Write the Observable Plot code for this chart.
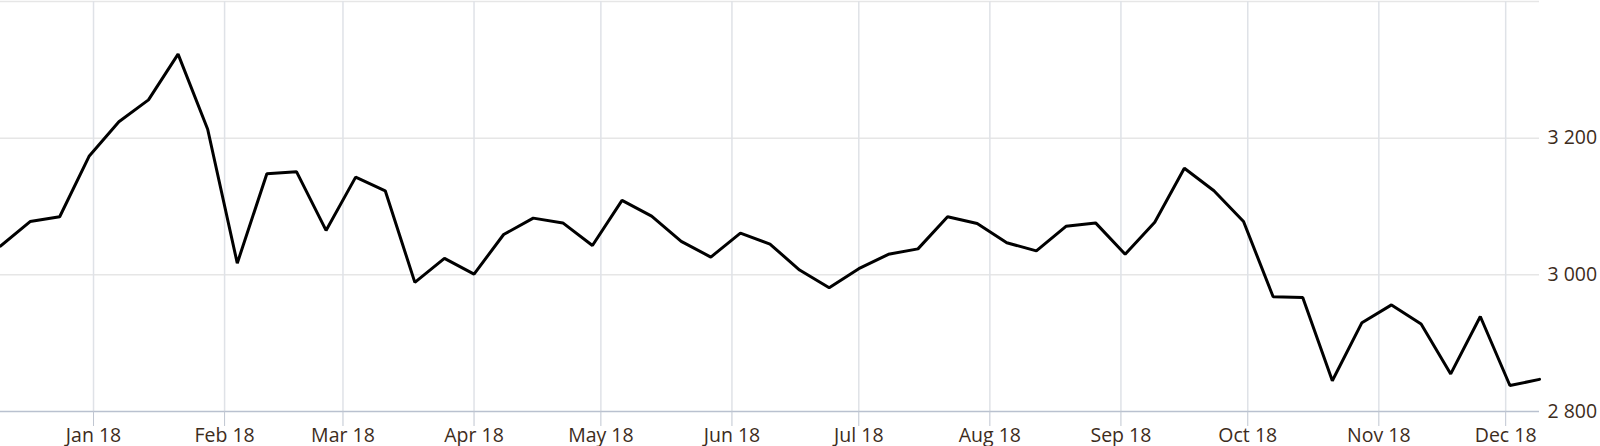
<!DOCTYPE html>
<html>
<head>
<meta charset="utf-8">
<script src="https://cdn.jsdelivr.net/npm/d3@7"></script>
<script src="https://cdn.jsdelivr.net/npm/@observablehq/plot@0.6"></script>
<style>
  html, body { margin: 0; padding: 0; background: #ffffff; }
  #chart svg { display: block; }
</style>
</head>
<body>
<div id="chart"></div>
<script>
const dates = [
  "2017-12-10","2017-12-17","2017-12-24","2017-12-31",
  "2018-01-07","2018-01-14","2018-01-21","2018-01-28",
  "2018-02-04","2018-02-11","2018-02-18","2018-02-25",
  "2018-03-04","2018-03-11","2018-03-18","2018-03-25",
  "2018-04-01","2018-04-08","2018-04-15","2018-04-22","2018-04-29",
  "2018-05-06","2018-05-13","2018-05-20","2018-05-27",
  "2018-06-03","2018-06-10","2018-06-17","2018-06-24",
  "2018-07-01","2018-07-08","2018-07-15","2018-07-22","2018-07-29",
  "2018-08-05","2018-08-12","2018-08-19","2018-08-26",
  "2018-09-02","2018-09-09","2018-09-16","2018-09-23","2018-09-30",
  "2018-10-07","2018-10-14","2018-10-21","2018-10-28",
  "2018-11-04","2018-11-11","2018-11-18","2018-11-25",
  "2018-12-02","2018-12-09"
];
const values = [
  3042, 3078, 3085, 3174,
  3224, 3256, 3323, 3213,
  3017, 3148, 3151, 3065,
  3143, 3123, 2989, 3024,
  3001, 3059, 3083, 3076, 3043,
  3109, 3086, 3049, 3026,
  3061, 3045, 3007, 2981,
  3009, 3030, 3038, 3085, 3075,
  3047, 3035, 3071, 3076,
  3030, 3077, 3156, 3123, 3078,
  2968, 2967, 2845, 2930,
  2956, 2928, 2855, 2939,
  2838, 2847
];
const monthTicks = [
  "2018-01-01","2018-02-01","2018-03-01","2018-04-01","2018-05-01","2018-06-01",
  "2018-07-01","2018-08-01","2018-09-01","2018-10-01","2018-11-01","2018-12-01"
];
const yTicks = [2800, 3000, 3200];
const yGrid = [3000, 3200, 3400];
const xDomain = ["2017-12-10", "2018-12-09"];
const yDomain = [2800, 3400];

const parse = d3.utcParse("%Y-%m-%d");
const data = dates.map((d, i) => ({date: parse(d), value: values[i]}));
const months = monthTicks.map(parse);

const textColor = "#3d2c1c";
const fmtY = d => d3.format(",")(d).replace(/,/g, " ");

const chart = Plot.plot({
  width: 1600,
  height: 446,
  marginLeft: 0,
  marginRight: 61,
  marginTop: 1,
  marginBottom: 35,
  style: {fontFamily: "'Open Sans', Lato, sans-serif", background: "#ffffff", overflow: "visible"},
  x: {type: "utc", domain: xDomain.map(parse), label: null},
  y: {domain: yDomain, label: null},
  marks: [
    Plot.ruleY(yGrid, {stroke: "#e6e6e6", strokeWidth: 1.5}),
    Plot.ruleX(months, {stroke: "#dfe2e7", strokeWidth: 1.5}),
    Plot.ruleY([2800], {stroke: "#b9c1cf", strokeWidth: 1.5}),
    Plot.axisX({
      ticks: months,
      tickFormat: d3.utcFormat("%b %y"),
      tickSize: 15,
      tickPadding: 2,
      stroke: "#bfc6d1",
      fill: textColor,
      fontSize: 19.5,
      label: null
    }),
    Plot.axisY({
      anchor: "right",
      ticks: yTicks,
      tickFormat: fmtY,
      tickSize: 0,
      tickPadding: 8,
      fill: textColor,
      fontSize: 19.5,
      label: null
    }),
    Plot.line(data, {x: "date", y: "value", stroke: "#000000", strokeWidth: 3, strokeLinejoin: "miter", curve: "linear"})
  ]
});

document.getElementById("chart").appendChild(chart);
</script>
</body>
</html>
